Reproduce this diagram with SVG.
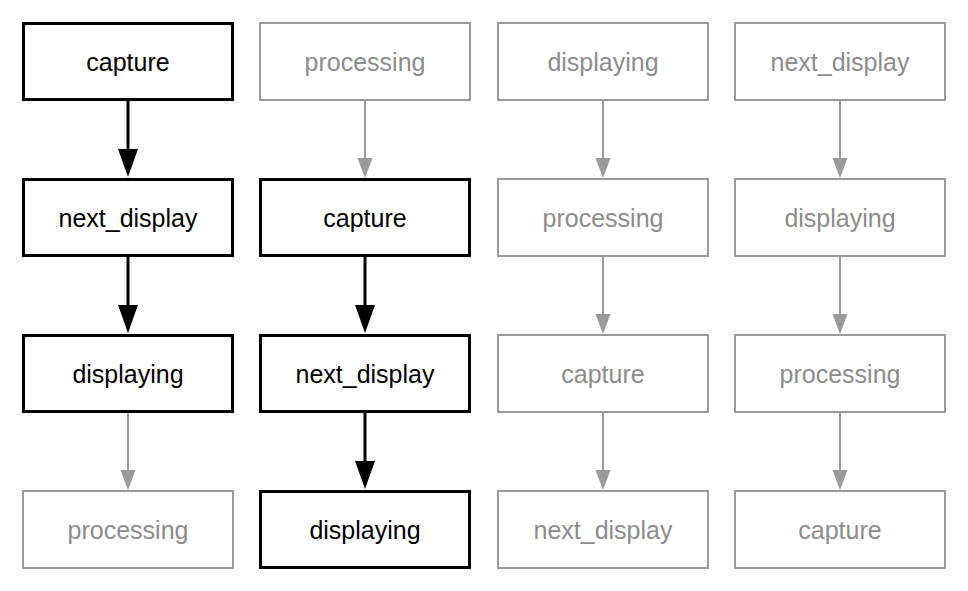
<svg xmlns="http://www.w3.org/2000/svg" width="968" height="591" viewBox="0 0 968 591">
<style>
  .box { fill: #ffffff; }
  .on { stroke: #000000; stroke-width: 3; }
  .off { stroke: #9a9a9a; stroke-width: 2; }
  text { font-family: "Liberation Sans", Arial, Helvetica, sans-serif; font-size: 25px; text-anchor: middle; }
  .ton { fill: #000000; }
  .toff { fill: #8c8c8c; }
  .lon { stroke: #000000; stroke-width: 3; fill: none; }
  .loff { stroke: #9a9a9a; stroke-width: 2; fill: none; }
  .hon { fill: #000000; }
  .hoff { fill: #9a9a9a; }
</style>
<rect width="968" height="591" fill="#ffffff"/>
<g id="connectors">
  <!-- column 1 -->
  <line class="lon" x1="128" y1="101" x2="128" y2="150"/>
  <polygon class="hon" points="118,149 138,149 128,177"/>
  <line class="lon" x1="128" y1="257" x2="128" y2="306"/>
  <polygon class="hon" points="118,305 138,305 128,333"/>
  <line class="loff" x1="128" y1="413" x2="128" y2="472"/>
  <polygon class="hoff" points="120.5,470 135.5,470 128,490"/>
  <!-- column 2 -->
  <line class="loff" x1="365" y1="101" x2="365" y2="160"/>
  <polygon class="hoff" points="357.5,158 372.5,158 365,178"/>
  <line class="lon" x1="365" y1="257" x2="365" y2="306"/>
  <polygon class="hon" points="355,305 375,305 365,333"/>
  <line class="lon" x1="365" y1="413" x2="365" y2="462"/>
  <polygon class="hon" points="355,461 375,461 365,489"/>
  <!-- column 3 -->
  <line class="loff" x1="603" y1="101" x2="603" y2="160"/>
  <polygon class="hoff" points="595.5,158 610.5,158 603,178"/>
  <line class="loff" x1="603" y1="257" x2="603" y2="316"/>
  <polygon class="hoff" points="595.5,314 610.5,314 603,334"/>
  <line class="loff" x1="603" y1="413" x2="603" y2="472"/>
  <polygon class="hoff" points="595.5,470 610.5,470 603,490"/>
  <!-- column 4 -->
  <line class="loff" x1="840" y1="101" x2="840" y2="160"/>
  <polygon class="hoff" points="832.5,158 847.5,158 840,178"/>
  <line class="loff" x1="840" y1="257" x2="840" y2="316"/>
  <polygon class="hoff" points="832.5,314 847.5,314 840,334"/>
  <line class="loff" x1="840" y1="413" x2="840" y2="472"/>
  <polygon class="hoff" points="832.5,470 847.5,470 840,490"/>
</g>
<!-- column 1 -->
<g id="c1r1"><rect class="box on" x="23.5" y="23.5" width="209" height="76"/><text class="ton" x="128" y="70.5">capture</text></g>
<g id="c1r2"><rect class="box on" x="23.5" y="179.5" width="209" height="76"/><text class="ton" x="128" y="226.5">next_display</text></g>
<g id="c1r3"><rect class="box on" x="23.5" y="335.5" width="209" height="76"/><text class="ton" x="128" y="382.5">displaying</text></g>
<g id="c1r4"><rect class="box off" x="23" y="491" width="210" height="77"/><text class="toff" x="128" y="538.5">processing</text></g>
<!-- column 2 -->
<g id="c2r1"><rect class="box off" x="260" y="23" width="210" height="77"/><text class="toff" x="365" y="70.5">processing</text></g>
<g id="c2r2"><rect class="box on" x="260.5" y="179.5" width="209" height="76"/><text class="ton" x="365" y="226.5">capture</text></g>
<g id="c2r3"><rect class="box on" x="260.5" y="335.5" width="209" height="76"/><text class="ton" x="365" y="382.5">next_display</text></g>
<g id="c2r4"><rect class="box on" x="260.5" y="491.5" width="209" height="76"/><text class="ton" x="365" y="538.5">displaying</text></g>
<!-- column 3 -->
<g id="c3r1"><rect class="box off" x="498" y="23" width="210" height="77"/><text class="toff" x="603" y="70.5">displaying</text></g>
<g id="c3r2"><rect class="box off" x="498" y="179" width="210" height="77"/><text class="toff" x="603" y="226.5">processing</text></g>
<g id="c3r3"><rect class="box off" x="498" y="335" width="210" height="77"/><text class="toff" x="603" y="382.5">capture</text></g>
<g id="c3r4"><rect class="box off" x="498" y="491" width="210" height="77"/><text class="toff" x="603" y="538.5">next_display</text></g>
<!-- column 4 -->
<g id="c4r1"><rect class="box off" x="735" y="23" width="210" height="77"/><text class="toff" x="840" y="70.5">next_display</text></g>
<g id="c4r2"><rect class="box off" x="735" y="179" width="210" height="77"/><text class="toff" x="840" y="226.5">displaying</text></g>
<g id="c4r3"><rect class="box off" x="735" y="335" width="210" height="77"/><text class="toff" x="840" y="382.5">processing</text></g>
<g id="c4r4"><rect class="box off" x="735" y="491" width="210" height="77"/><text class="toff" x="840" y="538.5">capture</text></g>
</svg>
